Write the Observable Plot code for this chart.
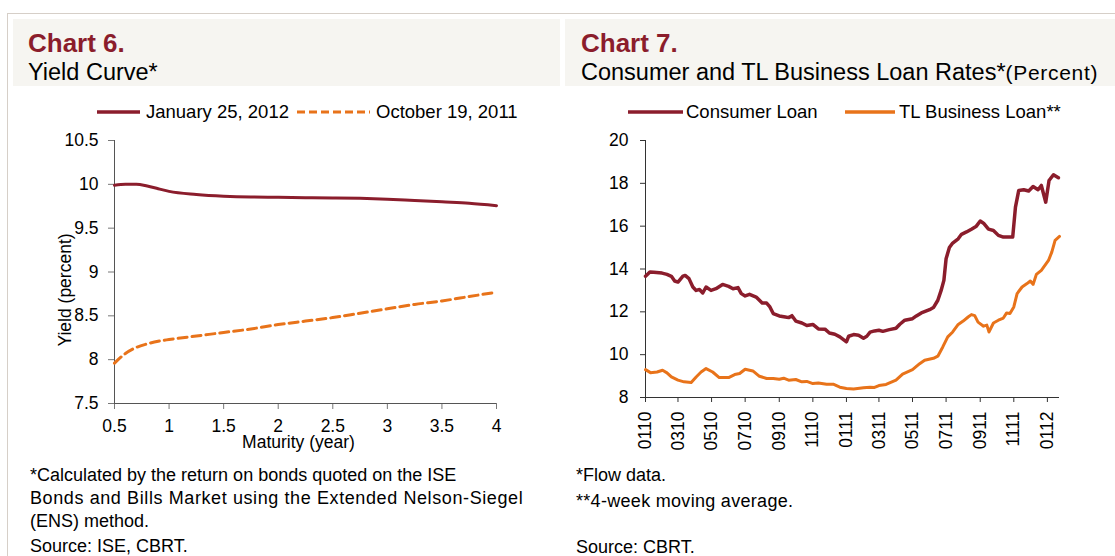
<!DOCTYPE html>
<html><head><meta charset="utf-8">
<script src="https://cdn.jsdelivr.net/npm/d3@7"></script>
<script src="https://cdn.jsdelivr.net/npm/@observablehq/plot@0.6"></script>
<style>
body{margin:0;background:#fff;font-family:"Liberation Sans",Arial,sans-serif;color:#000;}
#page{position:relative;width:1115px;height:556px;overflow:hidden;background:#fff;}
.abs{position:absolute;white-space:nowrap;}
.panel{position:absolute;background:#f6f5f1;}
.num{font-weight:bold;color:#8b1d2c;font-size:26px;line-height:26px;}
.ttl{font-size:23.5px;line-height:24px;}
.leg{font-size:18.5px;line-height:18px;}
.foot{font-size:18px;line-height:18px;}
.chart{position:absolute;}
.ylab{position:absolute;font-size:17.5px;line-height:18px;white-space:nowrap;transform:translate(-50%,-50%) rotate(-90deg);}
</style></head><body><div id="page">
<div class="abs" style="left:7px;top:13px;width:1108px;height:1px;background:#d6cfc8"></div>
<div class="abs" style="left:7px;top:13px;width:1px;height:543px;background:#d6cfc8"></div>
<div class="panel" style="left:13px;top:19px;width:547px;height:67px"></div>
<div class="panel" style="left:565px;top:19px;width:550px;height:67px"></div>
<div class="abs num" style="left:28px;top:30px">Chart 6.</div>
<div class="abs ttl" style="left:28px;top:60px">Yield Curve*</div>
<div class="abs num" style="left:581px;top:30px">Chart 7.</div>
<div class="abs ttl" style="left:581px;top:60px">Consumer and TL Business Loan Rates*<span style="font-size:21px;letter-spacing:0.7px">(Percent)</span></div>

<svg class="abs" style="left:92px;top:105px" width="56" height="14"><line x1="5" x2="48" y1="7" y2="7" stroke="#8b1d2c" stroke-width="3.5"/></svg>
<div class="abs leg" style="left:146px;top:103px">January 25, 2012</div>
<svg class="abs" style="left:292px;top:105px" width="84" height="14"><line x1="5" x2="78" y1="7" y2="7" stroke="#e8731a" stroke-width="3" stroke-dasharray="8,4"/></svg>
<div class="abs leg" style="left:376px;top:103px">October 19, 2011</div>

<svg class="abs" style="left:623px;top:105px" width="66" height="14"><line x1="5" x2="60" y1="7" y2="7" stroke="#8b1d2c" stroke-width="3.5"/></svg>
<div class="abs leg" style="left:686px;top:103px">Consumer Loan</div>
<svg class="abs" style="left:840px;top:105px" width="60" height="14"><line x1="5" x2="55" y1="7" y2="7" stroke="#e8731a" stroke-width="3.5"/></svg>
<div class="abs leg" style="left:899px;top:103px">TL Business Loan**</div>

<div id="left" class="chart" style="left:0px;top:125px"></div>
<div id="right" class="chart" style="left:565px;top:125px"></div>
<div class="ylab" style="left:65px;top:290px">Yield (percent)</div>

<div class="abs foot" style="left:30px;top:466px">*Calculated by the return on bonds quoted on the ISE</div>
<div class="abs foot" style="left:30px;top:489px;letter-spacing:0.6px">Bonds and Bills Market using the Extended Nelson-Siegel</div>
<div class="abs foot" style="left:30px;top:512px">(ENS) method.</div>
<div class="abs foot" style="left:30px;top:537px">Source: ISE, CBRT.</div>
<div class="abs foot" style="left:576px;top:466px">*Flow data.</div>
<div class="abs foot" style="left:576px;top:492px;letter-spacing:0.3px">**4-week moving average.</div>
<div class="abs foot" style="left:576px;top:538px">Source: CBRT.</div>
</div>
<script>
// ---- Chart 6 data: yield curve ----
const maturity = [0.5,0.6,0.7,0.8,0.9,1.0,1.25,1.5,1.75,2.0,2.25,2.5,2.75,3.0,3.25,3.5,3.75,4.0];
const yieldJan2012 = [9.99,10.0,10.0,9.98,9.95,9.92,9.885,9.865,9.855,9.852,9.848,9.845,9.84,9.83,9.815,9.80,9.785,9.757];
const yieldOct2011 = [7.96,8.07,8.14,8.18,8.21,8.23,8.27,8.31,8.35,8.40,8.44,8.48,8.53,8.58,8.63,8.67,8.72,8.77];
const leftXTicks = [0.5,1,1.5,2,2.5,3,3.5,4];
const leftYTicks = [7.5,8,8.5,9,9.5,10,10.5];

// ---- Chart 7 data: loan rates ----
const consumerDates = ["2010-01-01","2010-01-09","2010-01-16","2010-01-31","2010-02-09","2010-02-17","2010-02-23","2010-03-01","2010-03-10","2010-03-14","2010-03-21","2010-03-28","2010-04-03","2010-04-09","2010-04-15","2010-04-21","2010-04-30","2010-05-09","2010-05-21","2010-06-01","2010-06-09","2010-06-18","2010-06-24","2010-07-01","2010-07-09","2010-07-21","2010-08-01","2010-08-09","2010-08-15","2010-08-21","2010-09-01","2010-09-12","2010-09-18","2010-09-24","2010-10-01","2010-10-12","2010-10-21","2010-11-01","2010-11-11","2010-11-23","2010-12-01","2010-12-11","2010-12-20","2011-01-01","2011-01-05","2011-01-14","2011-01-23","2011-02-01","2011-02-07","2011-02-13","2011-02-21","2011-03-01","2011-03-08","2011-03-20","2011-04-01","2011-04-08","2011-04-17","2011-05-01","2011-05-08","2011-05-17","2011-06-01","2011-06-08","2011-06-16","2011-06-22","2011-06-27","2011-07-01","2011-07-07","2011-07-13","2011-07-23","2011-07-29","2011-08-07","2011-08-16","2011-08-25","2011-09-01","2011-09-07","2011-09-16","2011-09-25","2011-10-04","2011-10-13","2011-10-22","2011-10-30","2011-11-04","2011-11-10","2011-11-19","2011-11-28","2011-12-06","2011-12-15","2011-12-21","2011-12-29","2012-01-04","2012-01-12","2012-01-21"];
const consumerRates = [13.66,13.86,13.85,13.81,13.75,13.66,13.44,13.39,13.67,13.70,13.55,13.16,13.0,13.04,12.88,13.16,13.0,13.08,13.28,13.19,13.08,13.13,12.85,12.74,12.82,12.69,12.41,12.41,12.23,11.92,11.81,11.76,11.73,11.82,11.57,11.48,11.36,11.41,11.20,11.19,11.01,10.95,10.83,10.60,10.86,10.94,10.91,10.77,10.86,11.05,11.11,11.14,11.09,11.17,11.23,11.42,11.61,11.68,11.81,11.95,12.10,12.20,12.54,13.0,13.47,14.48,15.0,15.21,15.41,15.62,15.73,15.86,16.0,16.24,16.14,15.86,15.80,15.57,15.49,15.49,15.49,16.89,17.67,17.70,17.64,17.85,17.70,17.90,17.12,18.13,18.40,18.26];
const businessDates = ["2010-01-01","2010-01-10","2010-01-22","2010-02-01","2010-02-09","2010-02-17","2010-03-01","2010-03-12","2010-03-25","2010-04-03","2010-04-12","2010-04-21","2010-05-03","2010-05-15","2010-06-01","2010-06-12","2010-06-21","2010-07-01","2010-07-15","2010-07-27","2010-08-09","2010-08-21","2010-09-01","2010-09-09","2010-09-18","2010-10-01","2010-10-12","2010-10-21","2010-11-01","2010-11-11","2010-11-26","2010-12-08","2010-12-20","2011-01-01","2011-01-14","2011-02-01","2011-02-13","2011-02-21","2011-03-01","2011-03-14","2011-04-01","2011-04-13","2011-05-01","2011-05-14","2011-05-23","2011-06-08","2011-06-16","2011-06-25","2011-07-04","2011-07-13","2011-07-23","2011-08-01","2011-08-10","2011-08-16","2011-08-22","2011-08-28","2011-09-07","2011-09-13","2011-09-17","2011-09-25","2011-10-04","2011-10-13","2011-10-19","2011-10-25","2011-11-01","2011-11-07","2011-11-16","2011-11-25","2011-12-01","2011-12-06","2011-12-12","2011-12-21","2012-01-03","2012-01-09","2012-01-15","2012-01-23"];
const businessRates = [9.30,9.16,9.19,9.27,9.15,8.96,8.81,8.73,8.70,8.96,9.19,9.35,9.19,8.93,8.93,9.07,9.12,9.32,9.24,8.99,8.89,8.89,8.85,8.90,8.81,8.84,8.73,8.75,8.65,8.68,8.62,8.62,8.48,8.42,8.40,8.45,8.48,8.47,8.56,8.61,8.81,9.09,9.30,9.58,9.74,9.83,9.93,10.36,10.83,11.06,11.41,11.57,11.76,11.87,11.82,11.52,11.33,11.38,11.06,11.48,11.61,11.71,11.95,11.92,12.23,12.85,13.16,13.32,13.44,13.28,13.75,13.94,14.40,14.79,15.34,15.52];
const rightXTickLabels = ["0110","0310","0510","0710","0910","1110","0111","0311","0511","0711","0911","1111","0112"];
const rightYTicks = [8,10,12,14,16,18,20];

const FONT = "'Liberation Sans', Arial, sans-serif";
const RED = "#8b1d2c", ORANGE = "#e8731a";
const fmt = d3.format("~g");

const jan = maturity.map((m,i)=>({m, y: yieldJan2012[i]}));
const oct = maturity.map((m,i)=>({m, y: yieldOct2011[i]}));

const left = Plot.plot({
  width: 560, height: 335,
  marginLeft: 114, marginRight: 64, marginTop: 15, marginBottom: 57,
  x: {domain: [0.5, 4]},
  y: {domain: [7.5, 10.5]},
  style: {fontFamily: FONT, fontSize: "17.5px", color: "#000", background: "none", overflow: "visible"},
  marks: [
    Plot.axisY({ticks: leftYTicks, tickFormat: fmt, tickSize: 6, tickPadding: 10, stroke: "#777", fill: "#000", label: null}),
    Plot.axisX({ticks: leftXTicks, tickFormat: fmt, tickSize: 6, tickPadding: 10, stroke: "#777", fill: "#000", label: null}),
    Plot.ruleX([0.5], {stroke: "#555"}),
    Plot.ruleY([7.5], {stroke: "#555"}),
    Plot.line(oct, {x: "m", y: "y", stroke: ORANGE, strokeWidth: 3, strokeDasharray: "9,5", curve: "monotone-x"}),
    Plot.line(jan, {x: "m", y: "y", stroke: RED, strokeWidth: 3, curve: "monotone-x"}),
    Plot.text(["Maturity (year)"], {frameAnchor: "bottom", dx: -7, dy: 44, fontSize: 17.5})
  ]
});
document.getElementById("left").appendChild(left);

const parse = d3.utcParse("%Y-%m-%d");
const cons = consumerDates.map((d,i)=>({d: parse(d), v: consumerRates[i]}));
const bus = businessDates.map((d,i)=>({d: parse(d), v: businessRates[i]}));
const parseTick = d3.utcParse("%m%y");
const rightXTicks = rightXTickLabels.map(parseTick);
const xStart = parse(consumerDates[0]);
const xEnd = parse(businessDates[businessDates.length-1]);

const right = Plot.plot({
  width: 550, height: 335,
  marginLeft: 80, marginRight: 56, marginTop: 15, marginBottom: 63,
  x: {type: "utc", domain: [xStart, xEnd]},
  y: {domain: [8, 20]},
  style: {fontFamily: FONT, fontSize: "17.5px", color: "#000", background: "none", overflow: "visible"},
  marks: [
    Plot.axisY({ticks: rightYTicks, tickSize: 5, tickPadding: 12, stroke: "#333", fill: "#000", label: null}),
    Plot.axisX({ticks: rightXTicks, tickFormat: d3.utcFormat("%m%y"), tickRotate: -90, tickSize: 5, tickPadding: 9, stroke: "#333", fill: "#000", label: null}),
    Plot.ruleX([xStart], {stroke: "#333"}),
    Plot.ruleY([8], {stroke: "#333"}),
    Plot.line(bus, {x: "d", y: "v", stroke: ORANGE, strokeWidth: 3, strokeLinejoin: "round"}),
    Plot.line(cons, {x: "d", y: "v", stroke: RED, strokeWidth: 3.5, strokeLinejoin: "round"})
  ]
});
document.getElementById("right").appendChild(right);
</script>
</body></html>
